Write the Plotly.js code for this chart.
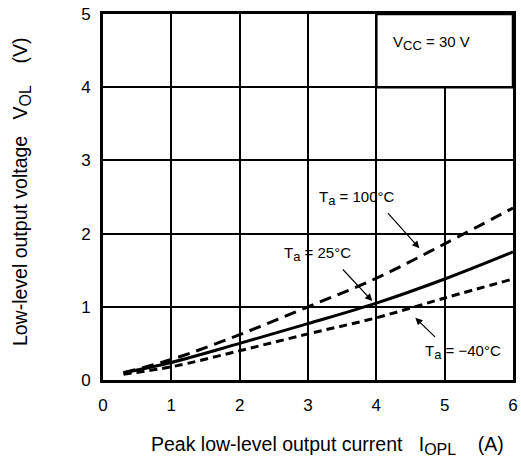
<!DOCTYPE html>
<html>
<head>
<meta charset="utf-8">
<script src="https://cdn.plot.ly/plotly-3.0.1.min.js"></script>
<style>html,body{margin:0;padding:0;background:#fff;}#chart{width:521px;height:465px;}</style>
</head>
<body>
<div id="chart"></div>
<script>
// Data
const current = [0.3, 1, 2, 3, 4, 5, 6];
const vol100 = [0.10, 0.28, 0.62, 1.00, 1.39, 1.86, 2.35];
const vol25 = [0.10, 0.24, 0.50, 0.77, 1.05, 1.38, 1.75];
const volm40 = [0.08, 0.18, 0.40, 0.63, 0.85, 1.12, 1.38];
const tickValsX = [0, 1, 2, 3, 4, 5, 6];
const tickValsY = [0, 1, 2, 3, 4, 5];

const FONT = 'Liberation Sans, Arial, sans-serif';
const sub = (s, px) => '<sub><span style="font-size:' + px + 'px">' + s + '</span></sub>';

const traces = [
  {x: current, y: vol100, mode: 'lines', line: {color: '#000', width: 3, dash: '12px,7px', shape: 'spline'}, hoverinfo: 'skip'},
  {x: current, y: vol25, mode: 'lines', line: {color: '#000', width: 3, shape: 'spline'}, hoverinfo: 'skip'},
  {x: current, y: volm40, mode: 'lines', line: {color: '#000', width: 3, dash: '8px,5px', shape: 'spline'}, hoverinfo: 'skip'}
];

const axisCommon = {
  showgrid: true, gridcolor: '#000', gridwidth: 2,
  zeroline: false, showline: true, linecolor: '#000', linewidth: 3, mirror: true,
  ticks: 'outside', ticklen: 6, tickcolor: 'rgba(0,0,0,0)',
  tickfont: {family: FONT, size: 17, color: '#000'}, fixedrange: true
};

const annFont = {family: FONT, size: 15, color: '#000'};
const titleFont = {family: FONT, size: 19.5, color: '#000'};

const layout = {
  width: 521, height: 465,
  margin: {l: 103, r: 8, t: 14, b: 85},
  paper_bgcolor: '#fff', plot_bgcolor: '#fff',
  showlegend: false,
  xaxis: Object.assign({}, axisCommon, {range: [0, 6], tickvals: tickValsX, ticklen: 8}),
  yaxis: Object.assign({}, axisCommon, {range: [0, 5], tickvals: tickValsY}),
  shapes: [
    {type: 'rect', xref: 'x', yref: 'y', x0: 4, x1: 6, y0: 4, y1: 5, fillcolor: '#fff', line: {color: '#000', width: 2.5}, layer: 'above'}
  ],
  annotations: [
    {xref: 'x', yref: 'y', x: 4.8, y: 4.6, text: 'V' + sub('CC', 13) + ' = 30 V', showarrow: false, font: annFont, xanchor: 'center', yanchor: 'middle'},
    {xref: 'x', yref: 'y', x: 3.72, y: 2.49, text: 'T' + sub('a', 13) + ' = 100°C', showarrow: false, font: annFont, xanchor: 'center', yanchor: 'middle'},
    {xref: 'x', yref: 'y', axref: 'x', ayref: 'y', x: 4.63, y: 1.80, ax: 4.15, ay: 2.30, text: '', showarrow: true, arrowhead: 2, arrowsize: 1.2, arrowwidth: 1.2, arrowcolor: '#000'},
    {xref: 'x', yref: 'y', x: 3.14, y: 1.72, text: 'T' + sub('a', 13) + ' = 25°C', showarrow: false, font: annFont, xanchor: 'center', yanchor: 'middle'},
    {xref: 'x', yref: 'y', axref: 'x', ayref: 'y', x: 3.94, y: 1.08, ax: 3.49, ay: 1.53, text: '', showarrow: true, arrowhead: 2, arrowsize: 1.2, arrowwidth: 1.2, arrowcolor: '#000'},
    {xref: 'x', yref: 'y', x: 5.27, y: 0.38, text: 'T' + sub('a', 13) + ' = −40°C', showarrow: false, font: annFont, xanchor: 'center', yanchor: 'middle'},
    {xref: 'x', yref: 'y', axref: 'x', ayref: 'y', x: 4.57, y: 0.85, ax: 4.88, ay: 0.57, text: '', showarrow: true, arrowhead: 2, arrowsize: 1.2, arrowwidth: 1.2, arrowcolor: '#000'},
    {xref: 'x', yref: 'paper', x: 3.28, y: -0.18, xanchor: 'center', yanchor: 'middle', text: 'Peak low-level output current   I' + sub('OPL', 16) + '    (A)', showarrow: false, font: titleFont},
    {xref: 'paper', yref: 'paper', x: -0.197, y: 0.514, xanchor: 'center', yanchor: 'middle', textangle: -90, text: 'Low-level output voltage   V' + sub('OL', 16) + '    (V)', showarrow: false, font: titleFont}
  ]
};

Plotly.newPlot('chart', traces, layout, {staticPlot: true, displayModeBar: false});
</script>
</body>
</html>
